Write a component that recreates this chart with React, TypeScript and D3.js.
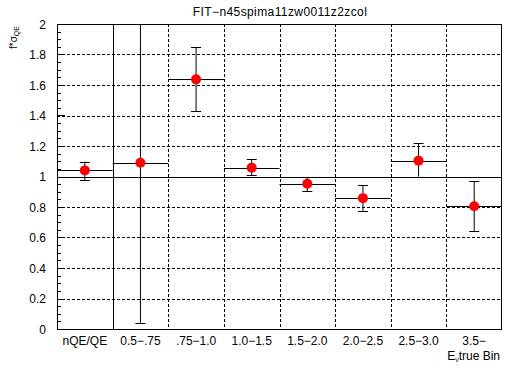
import React from 'react'
import * as d3 from 'd3'

const bins = ['nQE/QE', '0.5\u2212.75', '.75\u22121.0', '1.0\u22121.5', '1.5\u22122.0', '2.0\u22122.5', '2.5\u22123.0', '3.5\u2212']
const values = [1.04, 1.09, 1.637, 1.058, 0.952, 0.858, 1.104, 0.805]
const errLow = [0.977, 0.04, 1.427, 1.008, 0.905, 0.774, 0.999, 0.643]
const errHigh = [1.097, 2.14, 1.847, 1.113, 0.998, 0.942, 1.218, 0.968]
const yTicks = [0, 0.2, 0.4, 0.6, 0.8, 1, 1.2, 1.4, 1.6, 1.8, 2]

const W = 512
const H = 372
const left = 57
const right = 502
const top = 24
const bottom = 329
const font = 'Liberation Sans, Arial, sans-serif'

export default function App() {
  const x = d3.scaleBand<string>().domain(bins).range([left, right])
  const y = d3.scaleLinear().domain([0, 2]).range([bottom, top])
  const minor = d3.range(0, 2.0001, 0.05)
  const bw = x.bandwidth()

  return (
    <svg width={W} height={H} style={{ position: 'absolute', left: 0, top: 0, background: '#fff' }}>
      <defs>
        <clipPath id="plot">
          <rect x={left} y={top} width={right - left} height={bottom - top} />
        </clipPath>
      </defs>
      <rect x={0} y={0} width={W} height={H} fill="#fff" />

      {/* title */}
      <text x={280} y={16} fontFamily={font} fontSize={12} letterSpacing={0.4} textAnchor="middle">FIT{'\u2212'}n45spima11zw0011z2zcol</text>

      {/* horizontal grid */}
      {yTicks.slice(1, -1).map(t => (
        <line key={'gy' + t} x1={left} x2={right} y1={Math.round(y(t)) + 0.5} y2={Math.round(y(t)) + 0.5}
          stroke="#000" strokeDasharray={t === 1 ? undefined : '3,2'} />
      ))}
      {/* vertical grid at bin edges */}
      {bins.slice(1).map((b, i) => (
        <line key={'gx' + b} x1={Math.round(x(b)!) + 0.5} x2={Math.round(x(b)!) + 0.5} y1={top} y2={bottom}
          stroke="#000" strokeDasharray={i === 0 ? undefined : '3,2'} />
      ))}

      {/* y ticks */}
      {minor.map(t => {
        const major = Math.abs(t * 5 - Math.round(t * 5)) < 1e-6
        const yy = Math.round(y(t)) + 0.5
        return <line key={'mt' + t} x1={left} x2={left + (major ? 8 : 4)} y1={yy} y2={yy} stroke="#000" />
      })}
      {yTicks.map(t => (
        <text key={'yl' + t} x={46} y={y(t) + 4.5} fontFamily={font} fontSize={12} textAnchor="end">{t}</text>
      ))}

      {/* x labels */}
      {bins.map(b => (
        <text key={'xl' + b} x={x(b)! + bw / 2} y={345} fontFamily={font} fontSize={12} textAnchor="middle">{b}</text>
      ))}

      {/* data */}
      <g clipPath="url(#plot)" stroke="#000">
        {bins.map((b, i) => {
          const cx = x(b)! + bw / 2
          const vy = Math.round(y(values[i])) + 0.5
          return (
            <g key={'d' + b}>
              <line x1={x(b)!} x2={x(b)! + bw} y1={vy} y2={vy} />
              <line x1={cx} x2={cx} y1={y(errLow[i])} y2={y(errHigh[i])} />
              <line x1={cx - 5} x2={cx + 5} y1={Math.round(y(errLow[i])) + 0.5} y2={Math.round(y(errLow[i])) + 0.5} />
              <line x1={cx - 5} x2={cx + 5} y1={Math.round(y(errHigh[i])) + 0.5} y2={Math.round(y(errHigh[i])) + 0.5} />
              <circle cx={cx} cy={y(values[i])} r={5} fill="#ff0000" stroke="none" />
            </g>
          )
        })}
      </g>

      {/* frame */}
      <rect x={left + 0.5} y={top + 0.5} width={right - left - 1} height={bottom - top} fill="none" stroke="#000" />

      {/* axis titles */}
      <text x={500} y={360} fontFamily={font} fontSize={12} textAnchor="end">
        E<tspan fontSize={7} dy={2}>{'\u03bd'}</tspan><tspan dy={-2}>true Bin</tspan>
      </text>
      <text transform="translate(17,49) rotate(-90)" fontFamily={font} fontSize={10}>
        f*{'\u03c3'}<tspan fontSize={7} dy={2}>QE</tspan>
      </text>
    </svg>
  )
}
